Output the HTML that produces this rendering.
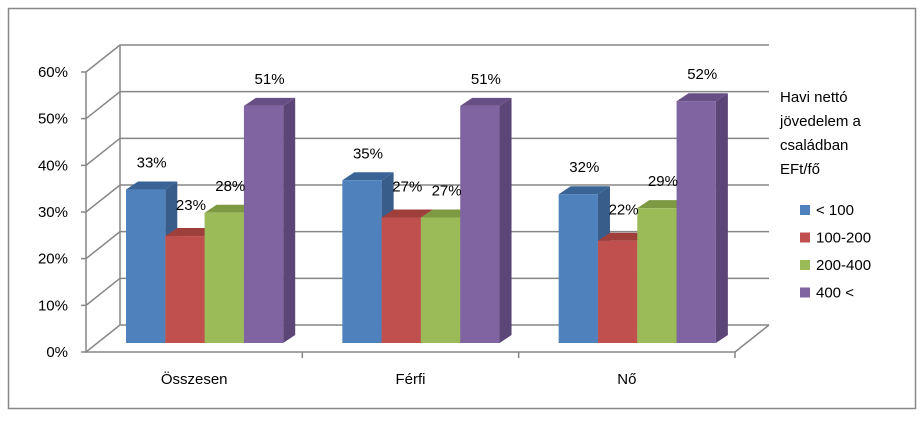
<!DOCTYPE html>
<html><head><meta charset="utf-8"><style>
body{margin:0;background:#fff}
svg{display:block;font-family:"Liberation Sans",Arial,sans-serif}
</style></head><body>
<svg width="924" height="425" viewBox="0 0 924 425">
<rect x="8.5" y="8.5" width="907" height="400" fill="#fff" stroke="#888" stroke-width="1.5"/>
<g id="grid"></g>
<g id="bars"></g>
<g id="labels"></g>
<g font-size="15" fill="#000">
<text x="780" y="102">Havi nettó</text>
<text x="780" y="126">jövedelem a</text>
<text x="780" y="150">családban</text>
<text x="780" y="174">EFt/fő</text>
<g id="legendItems"></g>
</g>
</svg>
<script>
const categories=["Összesen","Férfi","Nő"];
const seriesNames=["< 100","100-200","200-400","400 <"];
const s1=[33,35,32];
const s2=[23,27,22];
const s3=[28,27,29];
const s4=[51,51,52];
const yTicks=[0,10,20,30,40,50,60];
const series=[s1,s2,s3,s4];
const cols=[["#4F81BD","#3A6496","#385D8A"],["#C0504D","#9E3F3C","#8C3836"],["#9BBB59","#7D9A43","#71893D"],["#8064A2","#674F86","#5B4677"]];
const NS="http://www.w3.org/2000/svg";
function mk(t,a,p){const e=document.createElementNS(NS,t);for(const k in a)e.setAttribute(k,a[k]);p.appendChild(e);return e;}
const axY=v=>352-v*4.667;     // front axis
const barY=v=>343-v*4.65;      // bar front plane
const X0=86,X1=735,DX=34,DY=-27;
const catW=(X1-X0)/categories.length;
const grid=document.getElementById('grid');
yTicks.forEach(t=>{const y=axY(t);
 const l=mk('polyline',{points:`${X0-5},${y} ${X0},${y} ${X0+DX},${y+DY} ${X1+DX},${y+DY}`,fill:'none',stroke:'#868686','stroke-width':1.5},grid);
 
 const tx=mk('text',{x:X0-18,y:y+5,'text-anchor':'end','font-size':15},grid);tx.textContent=t+'%';
 
});
let ax=mk('polyline',{points:`${X0},${axY(60)} ${X0},${axY(0)} ${X1},${axY(0)} ${X1+DX},${axY(0)+DY}`,fill:'none',stroke:'#868686','stroke-width':1.5},grid);

let bw=mk('line',{x1:X0+DX,y1:axY(60)+DY,x2:X0+DX,y2:axY(0)+DY,stroke:'#868686','stroke-width':1.5},grid);

categories.forEach((c,i)=>{
 const tk=mk('line',{x1:X0+catW*(i+1),y1:axY(0),x2:X0+catW*(i+1),y2:axY(0)+6,stroke:'#868686','stroke-width':1.5},grid);
 
 const tx=mk('text',{x:X0+catW*(i+0.5),y:384,'text-anchor':'middle','font-size':15},grid);tx.textContent=c;
 
});
const bars=document.getElementById('bars'),labels=document.getElementById('labels');
const BW=39.3,bdx=12,bdy=-8;
categories.forEach((c,i)=>{
 series.forEach((s,j)=>{
  const x=X0+40+catW*i+BW*j, y=barY(s[i]), b=barY(0);
  const g=mk('g',{},bars);
  
  mk('polygon',{points:`${x+BW},${y} ${x+BW+bdx},${y+bdy} ${x+BW+bdx},${b+bdy} ${x+BW},${b}`,fill:cols[j][2]},g);
  mk('polygon',{points:`${x},${y} ${x+bdx},${y+bdy} ${x+BW+bdx},${y+bdy} ${x+BW},${y}`,fill:cols[j][1]},g);
  mk('rect',{x:x,y:y,width:BW,height:b-y,fill:cols[j][0]},g);
  const t=mk('text',{x:x+BW/2+6,y:y-22+(j===1?-4:0),'text-anchor':'middle','font-size':15},labels);
  t.textContent=s[i]+'%';
  
 });
});
const li=document.getElementById('legendItems');
seriesNames.forEach((n,j)=>{const y=215+j*27.5;
 const g=mk('g',{},li);
 mk('rect',{x:800,y:y-10,width:10,height:10,fill:cols[j][0]},g);
 const t=mk('text',{x:816,y:y,'font-size':15},g);t.textContent=n;
});
</script>
</body></html>
